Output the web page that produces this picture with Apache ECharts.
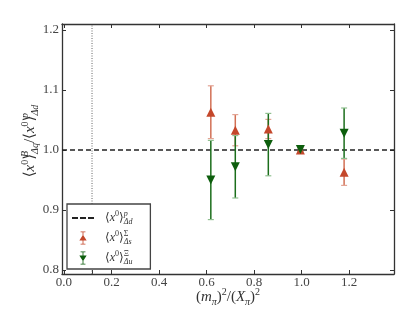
<!DOCTYPE html>
<html><head><meta charset="utf-8">
<script src="https://cdn.jsdelivr.net/npm/echarts@6/dist/echarts.min.js"></script>
<style>html,body{margin:0;padding:0;background:#fff}#c{width:415px;height:312px}</style>
</head><body><div id="c"></div>
<script>
const xValues = [0.618, 0.721, 0.860, 0.995, 1.179];
const sigmaValues = [1.063, 1.033, 1.035, 1.000, 0.963];
const sigmaErrors = [0.044, 0.026, 0.016, 0.003, 0.022];
const xiValues = [0.950, 0.972, 1.009, 1.001, 1.028];
const xiErrors = [0.066, 0.052, 0.052, 0.004, 0.042];
const refValue = [1.0];
const physPoint = [0.118];
const xTicks = [0.0, 0.2, 0.4, 0.6, 0.8, 1.0, 1.2];
const yTicks = [0.8, 0.9, 1.0, 1.1, 1.2];
const xRange = [-0.0084, 1.389];
const yRange = [0.7933, 1.2100];

const SERIF = "'Liberation Serif', 'DejaVu Serif', serif";
const TXT = '#333';
const RED = '#c4472b', RED_BAR = '#d27055', RED_CAP = '#e3a494';
const GREEN = '#0d5e0d', GREEN_BAR = '#1c6e1c', GREEN_CAP = '#8fbf8f';

function mkRich(big, small, lh, slh) {
  return {
    n: {fontFamily: SERIF, fontSize: big, color: TXT, lineHeight: lh, verticalAlign: 'middle'},
    i: {fontFamily: SERIF, fontStyle: 'italic', fontSize: big, color: TXT, lineHeight: lh, verticalAlign: 'middle'},
    u: {fontFamily: SERIF, fontSize: small, color: TXT, lineHeight: slh + 2, verticalAlign: 'top'},
    s0: {fontFamily: SERIF, fontStyle: 'italic', fontSize: small, color: TXT, lineHeight: slh, verticalAlign: 'top', width: 0},
    s0n: {fontFamily: SERIF, fontSize: small, color: TXT, lineHeight: slh, verticalAlign: 'top', width: 0},
    s1: {fontFamily: SERIF, fontStyle: 'italic', fontSize: small, color: TXT, lineHeight: slh, verticalAlign: 'bottom'},
    su: {fontFamily: SERIF, fontSize: small, color: TXT, lineHeight: slh + 2, verticalAlign: 'top'},
    sd: {fontFamily: SERIF, fontStyle: 'italic', fontSize: small, color: TXT, lineHeight: slh, verticalAlign: 'bottom'}
  };
}
const richAxis = mkRich(15, 10, 20, 11);
const richLegend = mkRich(12, 8, 16, 9);

function x0(sup, supStyle, sub) {
  return '{n|\u27E8}{i|x}{u|0}{n|\u27E9}{' + supStyle + '|' + sup + '}{s1|' + sub + '}';
}
const legendNames = {
  p: x0('p', 's0', '\u0394d'),
  S: x0('\u03A3', 's0n', '\u0394s'),
  X: x0('\u039E', 's0n', '\u0394u')
};

function errBar(name, vals, errs, color, capColor) {
  return {
    type: 'custom', name: name + '_err', silent: true, z: 3,
    data: xValues.map((x, i) => [x, vals[i] - errs[i], vals[i] + errs[i]]),
    encode: {x: 0, y: [1, 2]},
    renderItem(params, api) {
      const lo = api.coord([api.value(0), api.value(1)]);
      const hi = api.coord([api.value(0), api.value(2)]);
      const w = 3;
      return {type: 'group', children: [
        {type: 'line', shape: {x1: lo[0], y1: lo[1], x2: hi[0], y2: hi[1]}, style: {stroke: color, lineWidth: 1.5}},
        {type: 'line', shape: {x1: lo[0] - w, y1: lo[1], x2: lo[0] + w, y2: lo[1]}, style: {stroke: capColor, lineWidth: 1.2}},
        {type: 'line', shape: {x1: hi[0] - w, y1: hi[1], x2: hi[0] + w, y2: hi[1]}, style: {stroke: capColor, lineWidth: 1.2}}
      ]};
    }
  };
}

const axisLineStyle = {color: '#333', width: 1.3};
function xAx(pos, labels) {
  return {
    type: 'value', position: pos, min: xRange[0], max: xRange[1],
    axisLine: {show: true, onZero: false, lineStyle: axisLineStyle},
    axisTick: {show: true, inside: true, length: 4, lineStyle: {color: '#333', width: 1},
      customValues: pos === 'bottom' ? xTicks.concat(physPoint) : xTicks},
    axisLabel: labels ? {show: true, customValues: xTicks, formatter: v => v.toFixed(1),
      fontFamily: SERIF, fontSize: 13, color: '#444', margin: 2} : {show: false},
    splitLine: {show: false},
    name: labels ? '{n|(}{i|m}{sd|\u03C0}{n|)}{su|2}{n|/(}{i|X}{sd|\u03C0}{n|)}{su|2}' : '',
    nameLocation: 'middle', nameGap: 13, nameMoveOverlap: false,
    nameTextStyle: {rich: richAxis}
  };
}
function yAx(pos, labels) {
  return {
    type: 'value', position: pos, min: yRange[0], max: yRange[1],
    axisLine: {show: true, onZero: false, lineStyle: axisLineStyle},
    axisTick: {show: true, inside: true, length: 4, lineStyle: {color: '#333', width: 1}, customValues: yTicks},
    axisLabel: labels ? {show: true, customValues: yTicks, formatter: v => v.toFixed(1),
      fontFamily: SERIF, fontSize: 13, color: '#444', margin: 3} : {show: false},
    splitLine: {show: false},
    name: labels ? '{n|\u27E8}{i|x}{u|0}{n|\u27E9}{s0|B}{s1|\u0394q}{n|/\u27E8}{i|x}{u|0}{n|\u27E9}{s0|p}{s1|\u0394d}' : '',
    nameLocation: 'middle', nameRotate: 90, nameGap: 22, nameMoveOverlap: false,
    nameTextStyle: {rich: richAxis, padding: [0, 0, 0, 16]}
  };
}

const chart = echarts.init(document.getElementById('c'), null, {renderer: 'canvas'});
chart.setOption({
  animation: false,
  backgroundColor: '#fff',
  grid: {left: 62, right: 21, top: 24, bottom: 38, containLabel: false, outerBoundsMode: 'none'},
  xAxis: [xAx('bottom', true), xAx('top', false)],
  yAxis: [yAx('left', true), yAx('right', false)],
  legend: {
    orient: 'vertical', left: 67, top: 204,
    padding: [6, 18, 3, 5], itemGap: 4, itemWidth: 22, itemHeight: 13,
    backgroundColor: '#fff', borderColor: '#444', borderWidth: 1.3, borderRadius: 0,
    data: [
      {name: 'p', icon: 'path://M0,0H6V2H0Z M8,0H14V2H8Z M16,0H22V2H16Z', itemStyle: {color: '#222'}},
      {name: 'S', icon: 'path://M2,0H8V1H2Z M4.5,1H5.5V15H4.5Z M2,15H8V16H2Z M0.5,11L5,4L9.5,11Z'},
      {name: 'X', icon: 'path://M2,0H8V1H2Z M4.5,1H5.5V15H4.5Z M2,15H8V16H2Z M0.5,5L9.5,5L5,12Z'}
    ],
    formatter: n => legendNames[n],
    textStyle: {rich: richLegend, padding: [0, 0, 0, 6]}
  },
  series: [
    {
      type: 'line', name: 'phys', silent: true, symbol: 'none', z: 1,
      data: physPoint.flatMap(p => [[p, yRange[0]], [p, yRange[1]]]),
      lineStyle: {color: '#666', width: 1, type: [1, 1.5]}
    },
    {
      type: 'line', name: 'p', silent: true, symbol: 'none', showSymbol: false, z: 2,
      data: refValue.flatMap(v => [[xRange[0], v], [xRange[1], v]]),
      lineStyle: {color: '#222', width: 1.6, type: [5, 3]},
      itemStyle: {color: '#222'}
    },
    errBar('S', sigmaValues, sigmaErrors, RED_BAR, RED_CAP),
    errBar('X', xiValues, xiErrors, GREEN_BAR, GREEN_CAP),
    {
      type: 'scatter', name: 'S', symbol: 'triangle', symbolSize: 9, z: 5,
      data: xValues.map((x, i) => [x, sigmaValues[i]]),
      itemStyle: {color: RED, opacity: 1}
    },
    {
      type: 'scatter', name: 'X', symbol: 'triangle', symbolRotate: 180, symbolSize: 9, z: 6,
      data: xValues.map((x, i) => [x, xiValues[i]]),
      itemStyle: {color: GREEN, opacity: 1}
    }
  ]
});
</script></body></html>
